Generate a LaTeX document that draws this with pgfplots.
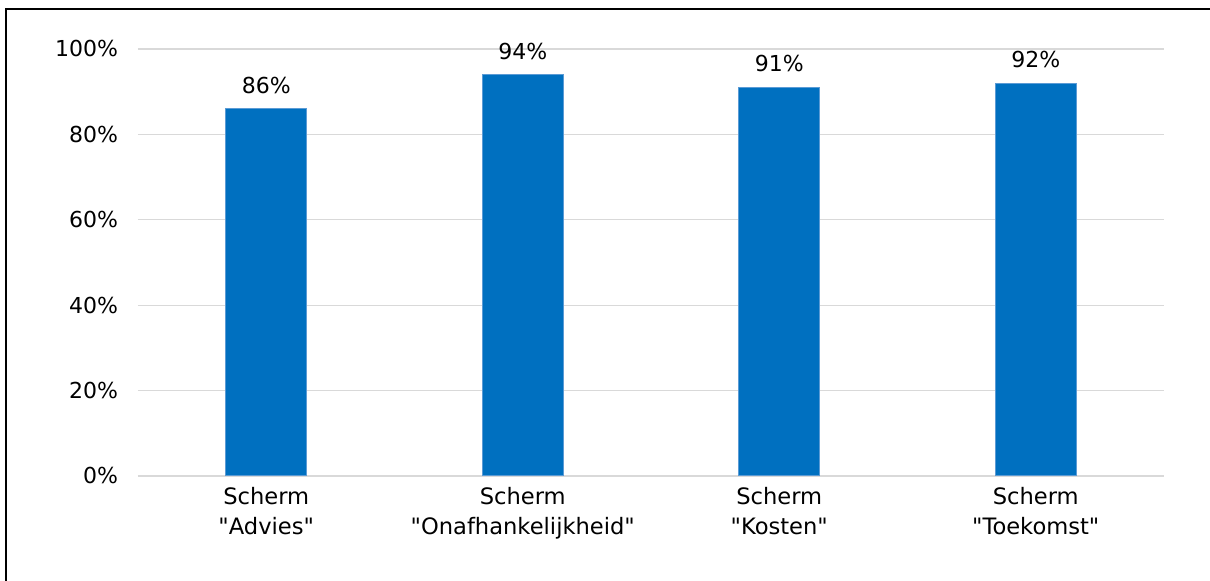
\documentclass[border=0pt]{standalone}
\usepackage{pgfplots}
\pgfplotsset{compat=1.18}
\usepackage{fontspec}
\setmainfont{DejaVu Sans}[Ligatures=TeXOff]
\definecolor{barblue}{HTML}{0070C0}
\definecolor{baredge}{HTML}{5B9BD5}
\definecolor{gridgray}{HTML}{D9D9D9}

\begin{document}
\begin{tikzpicture}
\useasboundingbox (0,0) rectangle (605pt,290.5pt);
% frame of the figure (left and top edge only)
\draw[line width=1pt] (3pt,0) -- (3pt,286pt) -- (605pt,286pt);
\begin{axis}[
at={(69pt,52.5pt)}, anchor=south west,
width=513pt,
height=213.5pt,
scale only axis,
xmin=-0.5, xmax=3.5,
ymin=0, ymax=100,
xtick={0,1,2,3},
xticklabels={{Scherm\\"Advies"},{Scherm\\"Onafhankelijkheid"},{Scherm\\"Kosten"},{Scherm\\"Toekomst"}},
xticklabel style={align=center, font=\fontsize{11.3}{15.2}\selectfont, yshift=-2pt},
ytick={0,20,...,100},
yticklabel={\pgfmathprintnumber{\tick}\%},
yticklabel style={font=\fontsize{11}{13}\selectfont, xshift=-6.5pt},
/pgf/number format/assume math mode=true,
ymajorgrids,
major grid style={gridgray, line width=0.6pt},
axis line style={draw=none},
tick style={draw=none},
nodes near coords={\pgfmathprintnumber{\pgfplotspointmeta}\%},
nodes near coords style={font=\fontsize{11}{13}\selectfont, yshift=4pt},
]
\addplot [ybar, bar width=40.5pt, fill=barblue, draw=baredge, line width=0.5pt]
coordinates {(0,86) (1,94) (2,91) (3,92)};
\end{axis}
\end{tikzpicture}
\end{document}
